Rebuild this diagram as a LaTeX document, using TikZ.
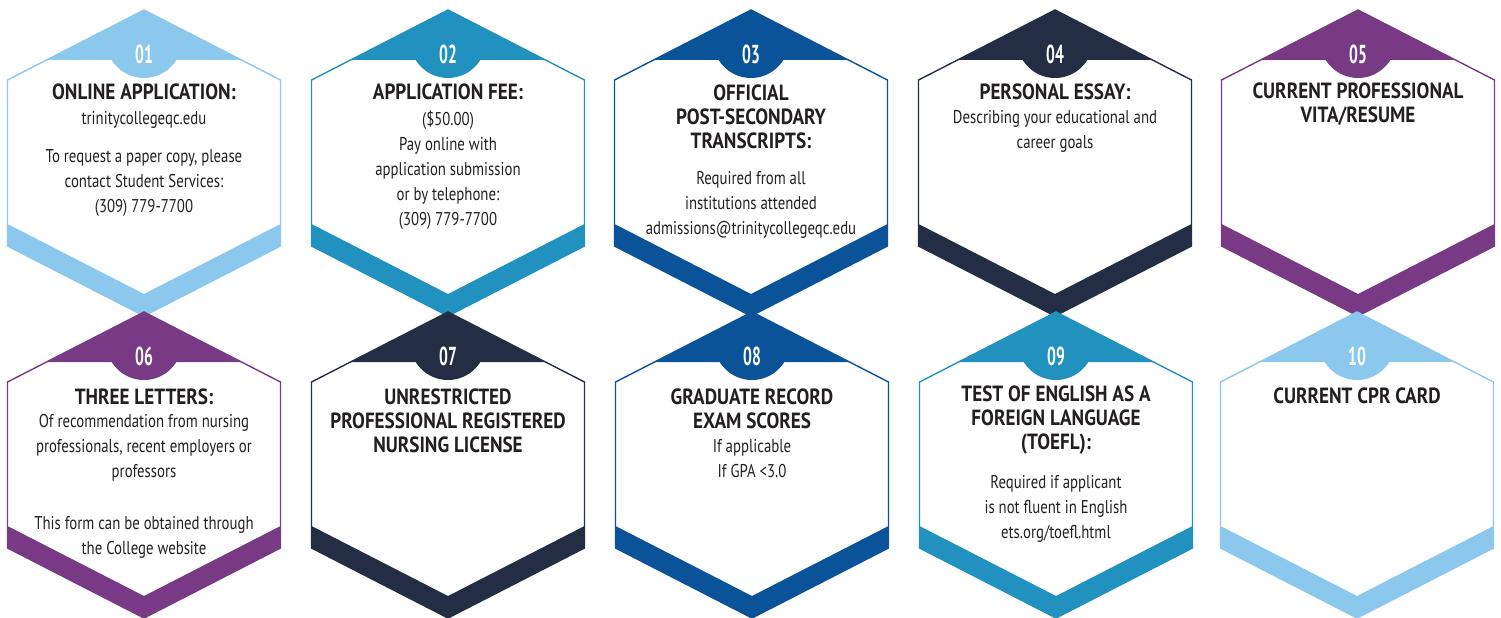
\documentclass[tikz,border=0pt]{standalone}
\usepackage{fontspec}
\setmainfont{PT Sans}[FakeStretch=0.8]
\newfontfamily\headfont{PT Sans}[FakeStretch=0.87]
\newfontfamily\numfont{PT Sans}[FakeStretch=0.6]
\usepackage{tikz}
\usetikzlibrary{positioning}

\definecolor{skyc}{HTML}{8CC8EE}
\definecolor{tealc}{HTML}{2192C0}
\definecolor{royalc}{HTML}{0B5399}
\definecolor{navyc}{HTML}{232E45}
\definecolor{plumc}{HTML}{783A84}
\definecolor{inkc}{HTML}{231F20}

\tikzset{
  cardtitle/.style={font=\headfont\bfseries\fontsize{22}{24}\selectfont, align=center, text=inkc, inner sep=0pt},
  cardbody/.style={font=\fontsize{18.5}{25}\selectfont, align=center, text=inkc, inner sep=0pt},
  cardnum/.style={font=\numfont\bfseries\fontsize{26}{26}\selectfont, text=white, inner sep=0pt}
}

\begin{document}
\begin{tikzpicture}[x=1pt, y=-1pt]

\useasboundingbox (0,0) rectangle (1501,618);

% Hexagon cards: centre x / top y / colour / number
\foreach \cx/\top/\col/\num in {144/10/skyc/01, 448/10/tealc/02, 751/10/royalc/03, 1055/10/navyc/04, 1358/10/plumc/05,
    144/312/plumc/06, 448/312/navyc/07, 752/312/royalc/08, 1056/312/tealc/09, 1357/312/skyc/10} {
  % top cap: triangle plus round tab, kept inside the hexagon
  \begin{scope}
    \clip (\cx,\top) -- ++(136.5,70) -- ++(0,166) -- ++(-136.5,70) -- ++(-136.5,-70) -- ++(0,-166) -- cycle;
    \fill[\col] (\cx,\top) -- ++(97.5,50) -- ++(-195,0) -- cycle;
    \fill[\col] (\cx,\top+30) circle (38);
  \end{scope}
  % bottom band
  \fill[\col] (\cx-136.5,\top+214) -- (\cx,\top+284) -- (\cx+136.5,\top+214)
    -- (\cx+136.5,\top+236) -- (\cx,\top+306) -- (\cx-136.5,\top+236) -- cycle;
  % outline
  \draw[\col, line width=1.4pt, line join=miter] (\cx,\top) -- ++(136.5,70) -- ++(0,166) -- ++(-136.5,70) -- ++(-136.5,-70) -- ++(0,-166) -- cycle;
  \node[cardnum] (n\num) at (\cx,\top+44) {\num};
}

% 01 Online application
\node[cardtitle] (t01) at (144,92) {ONLINE APPLICATION:};
\node[cardbody] (b01a) at (144,120) {trinitycollegeqc.edu};
\node[cardbody] (b01b) at (144,183) {To request a paper copy, please\\contact Student Services:\\(309) 779-7700};

% 02 Application fee
\node[cardtitle] (t02) at (448,92) {APPLICATION FEE:};
\node[cardbody] (b02) at (448,170) {(\$50.00)\\Pay online with\\application submission\\or by telephone:\\(309) 779-7700};

% 03 Transcripts
\node[cardtitle] (t03) at (751,117) {OFFICIAL\\POST-SECONDARY\\TRANSCRIPTS:};
\node[cardbody] (b03) at (751,205) {Required from all\\institutions attended\\admissions@trinitycollegeqc.edu};

% 04 Personal essay
\node[cardtitle] (t04) at (1055,92) {PERSONAL ESSAY:};
\node[cardbody] (b04) at (1055,131.5) {Describing your educational and\\career goals};

% 05 Vita
\node[cardtitle] (t05) at (1358,104) {CURRENT PROFESSIONAL\\VITA/RESUME};

% 06 Three letters
\node[cardtitle] (t06) at (144,397) {THREE LETTERS:};
\node[cardbody] (b06a) at (144,447.5) {Of recommendation from nursing\\professionals, recent employers or\\professors};
\node[cardbody] (b06b) at (144,537.5) {This form can be obtained through\\the College website};

% 07 Licence
\node[cardtitle] (t07) at (448,420.5) {UNRESTRICTED\\PROFESSIONAL REGISTERED\\NURSING LICENSE};

% 08 GRE
\node[cardtitle] (t08) at (752,408.5) {GRADUATE RECORD\\EXAM SCORES};
\node[cardbody] (b08) at (752,458.5) {If applicable\\If GPA <3.0};

% 09 TOEFL
\node[cardtitle] (t09) at (1056,420.5) {TEST OF ENGLISH AS A\\FOREIGN LANGUAGE\\(TOEFL):};
\node[cardbody] (b09) at (1056,508.5) {Required if applicant\\is not fluent in English\\ets.org/toefl.html};

% 10 CPR card
\node[cardtitle] (t10) at (1357,396) {CURRENT CPR CARD};

\end{tikzpicture}
\end{document}
